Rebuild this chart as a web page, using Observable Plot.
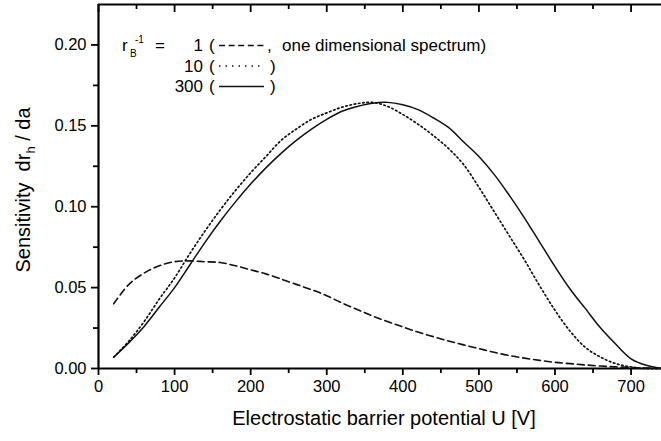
<!DOCTYPE html>
<html><head><meta charset="utf-8">
<script src="https://cdn.jsdelivr.net/npm/d3@7"></script>
<script src="https://cdn.jsdelivr.net/npm/@observablehq/plot@0.6"></script>
<style>body{margin:0;background:#fff}svg{display:block}</style>
</head><body><div id="chart"></div>
<script>
const U = [20,40,60,80,100,120,140,160,180,200,220,240,260,280,300,320,340,360,380,400,420,440,460,480,500,520,540,560,580,600,620,640,660,680,700,720,740];
const r1 = [0.040,0.052,0.059,0.0635,0.066,0.0665,0.066,0.0655,0.0635,0.061,0.0585,0.0553,0.052,0.0487,0.045,0.0405,0.0365,0.0325,0.029,0.0257,0.0225,0.0197,0.017,0.0146,0.0123,0.0100,0.0080,0.0064,0.0050,0.0038,0.003,0.0022,0.0015,0.001,0.0006,0.0003,0.0001];
const r10 = [0.007,0.017,0.029,0.043,0.056,0.071,0.085,0.098,0.110,0.121,0.131,0.141,0.148,0.154,0.158,0.1615,0.1637,0.1645,0.162,0.157,0.151,0.144,0.136,0.126,0.112,0.097,0.082,0.067,0.051,0.036,0.023,0.013,0.007,0.003,0.001,0.0,0.0];
const r300 = [0.007,0.016,0.026,0.038,0.050,0.064,0.078,0.091,0.103,0.114,0.124,0.133,0.141,0.148,0.154,0.159,0.162,0.164,0.1645,0.163,0.160,0.155,0.149,0.140,0.131,0.120,0.107,0.093,0.078,0.063,0.049,0.037,0.025,0.015,0.006,0.002,0.0];
const xTicks = [0,100,200,300,400,500,600,700];
const xMinor = [50,150,250,350,450,550,650];
const yTicks = [0,0.05,0.10,0.15,0.20];
const yMinor = [0.025,0.075,0.125,0.175];
const xTitle = "Electrostatic barrier potential U [V]";
const legendValues = ["1","10","300"];

const d1 = U.map((u,i)=>({u, v:r1[i]}));
const d10 = U.map((u,i)=>({u, v:r10[i]}));
const d300 = U.map((u,i)=>({u, v:r300[i]}));

const W = 661, H = 441, mt = 4, mb = 73, ml = 98, mr = 0;
const fh = H - mt - mb;

const plot = Plot.plot({
  width: W, height: H,
  marginTop: mt, marginBottom: mb, marginLeft: ml, marginRight: mr,
  style: {fontFamily: "'Liberation Sans', Arial, sans-serif", fontSize: "16px", color: "#000", background: "#fff"},
  x: {domain: [0, 740], label: null},
  y: {domain: [0, 0.225], label: null},
  marks: [
    Plot.axisY(yTicks, {tickSize: 7, tickPadding: 5, tickFormat: d => d.toFixed(2), fontSize: 16.5, strokeWidth: 1.8, label: null}),
    Plot.axisY(yMinor, {tickSize: 5, tickFormat: () => "", strokeWidth: 1.8, label: null}),
    Plot.axisX(xTicks, {tickSize: 7, tickPadding: 5, fontSize: 16.5, strokeWidth: 1.8, label: null}),
    Plot.axisX(xMinor, {tickSize: 5, tickFormat: () => "", strokeWidth: 1.8, label: null}),
    Plot.tickX(xTicks, {x: d => d, insetBottom: fh - 8, strokeWidth: 1.8}),
    Plot.tickX(xMinor, {x: d => d, insetBottom: fh - 5, strokeWidth: 1.8}),
    Plot.ruleY([0], {strokeWidth: 2.2}),
    Plot.ruleY([0.225], {strokeWidth: 2.2}),
    Plot.ruleX([0], {strokeWidth: 2.2}),
    Plot.line(d1, {x: "u", y: "v", stroke: "#111", strokeWidth: 1.6, strokeDasharray: "7,4", curve: "catmull-rom"}),
    Plot.line(d10, {x: "u", y: "v", stroke: "#111", strokeWidth: 1.7, strokeDasharray: "1.5,2.8", curve: "catmull-rom"}),
    Plot.line(d300, {x: "u", y: "v", stroke: "#111", strokeWidth: 1.5, curve: "catmull-rom"})
  ]
});
document.getElementById("chart").appendChild(plot);

const svg = d3.select(plot);
const ff = "'Liberation Sans', Arial, sans-serif";
const g = svg.append("g").attr("font-family", ff).attr("fill", "#000").attr("text-anchor", "start");

// axis titles
g.append("text").attr("x", 384).attr("y", 425).attr("text-anchor", "middle").attr("font-size", 20).text(xTitle);
const yl = g.append("text").attr("transform", "translate(30,190) rotate(-90)").attr("text-anchor", "middle").attr("font-size", 20);
yl.append("tspan").text("Sensitivity  dr");
yl.append("tspan").attr("font-size", 13).attr("dy", 5).text("h");
yl.append("tspan").attr("dy", -5).text(" / da");

// legend
const L = (x, y, s, t, anchor) => g.append("text").attr("x", x).attr("y", y).attr("font-size", s).attr("text-anchor", anchor || "start").text(t);
L(122, 51, 17, "r");
L(130, 57, 10, "B");
L(135, 43, 10, "-1");
L(155, 51, 17, "=");
const rows = [51, 71.5, 92];
const dashes = ["6,3.6", "1.5,5", null];
legendValues.forEach((v, i) => {
  L(203, rows[i], 17, v, "end");
  L(209, rows[i], 17, "(");
  const ln = g.append("line").attr("x1", 219).attr("x2", 264).attr("y1", rows[i] - 5.5).attr("y2", rows[i] - 5.5)
    .attr("stroke", "#111").attr("stroke-width", i === 1 ? 1.7 : 1.5);
  if (dashes[i]) ln.attr("stroke-dasharray", dashes[i]);
  if (i === 0) {
    L(267, rows[i], 17, ",");
    L(282, rows[i], 17, "one dimensional spectrum)");
  } else {
    L(270, rows[i], 17, ")");
  }
});
</script>
</body></html>
